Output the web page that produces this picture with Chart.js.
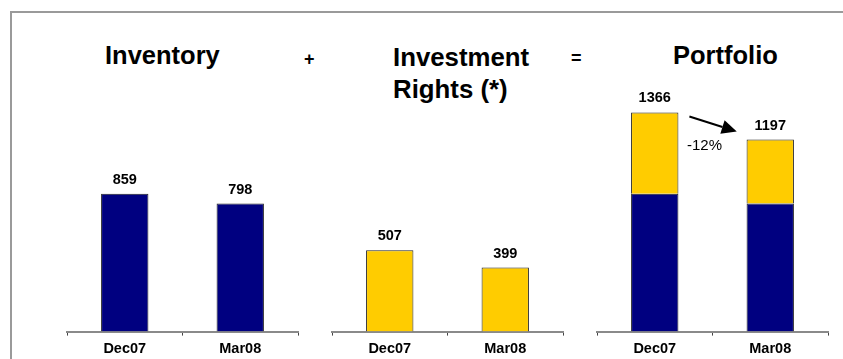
<!DOCTYPE html>
<html><head><meta charset="utf-8">
<script src="https://cdn.jsdelivr.net/npm/chart.js@4"></script>
<style>
html,body{margin:0;padding:0;background:#fff;overflow:hidden;}
#wrap{position:relative;width:843px;height:359px;overflow:hidden;font-family:"Liberation Sans",Arial,sans-serif;}
#frame{position:absolute;left:10px;top:11px;width:1200px;height:600px;border:2px solid #9a9a9a;}
.t{position:absolute;font-weight:bold;color:#000;white-space:nowrap;}
canvas{position:absolute;}
</style></head>
<body><div id="wrap"><div id="frame"></div>
<div class="t" style="left:105px;top:43px;font-size:25.5px;line-height:25px">Inventory</div>
<div class="t" style="left:304px;top:50px;font-size:18px;line-height:18px">+</div>
<div class="t" style="left:393px;top:41px;font-size:25.8px;line-height:32px">Investment<br>Rights (*)</div>
<div class="t" style="left:571px;top:49px;font-size:18px;line-height:18px">=</div>
<div class="t" style="left:673px;top:43px;font-size:25.5px;line-height:25px">Portfolio</div>
<canvas id="c1" width="235" height="291" style="left:65px;top:71px"></canvas>
<canvas id="c2" width="235" height="291" style="left:330px;top:71px"></canvas>
<canvas id="c3" width="235" height="291" style="left:595px;top:71px"></canvas>
</div>
<script>
const periods = ['Dec07', 'Mar08'];
const inventory = [859, 798];
const investmentRights = [507, 399];
const portfolioTotals = [1366, 1197];
const changeLabel = '-12%';

const NAVY = '#000080', GOLD = '#FFCC00';
const FONT = '"Liberation Sans", Arial, sans-serif';

function labelPlugin(totals) {
  return {
    id: 'totals',
    afterDatasetsDraw(chart) {
      const ctx = chart.ctx, x = chart.scales.x, y = chart.scales.y;
      ctx.save();
      ctx.font = 'bold 14.5px ' + FONT;
      ctx.fillStyle = '#000';
      ctx.textAlign = 'center';
      ctx.textBaseline = 'alphabetic';
      totals.forEach((v, i) => {
        ctx.fillText(String(v), x.getPixelForValue(i), y.getPixelForValue(v) - 10);
      });
      ctx.restore();
    }
  };
}

const arrowPlugin = {
  id: 'arrow',
  afterDatasetsDraw(chart) {
    const ctx = chart.ctx, x = chart.scales.x, y = chart.scales.y;
    const x0 = x.getPixelForValue(0), x1 = x.getPixelForValue(1);
    const mid = (x0 + x1) / 2, span = x1 - x0;
    const sx = mid - 0.2 * span, ex = mid + 0.21 * span;
    const sy = y.getPixelForValue(portfolioTotals[0]) + 4;
    const ey = y.getPixelForValue(portfolioTotals[1]) - 8;
    const ang = Math.atan2(ey - sy, ex - sx);
    const hl = 15, hw = 7;
    const bx = ex - hl * Math.cos(ang), by = ey - hl * Math.sin(ang);
    ctx.save();
    ctx.strokeStyle = '#000'; ctx.fillStyle = '#000'; ctx.lineWidth = 2;
    ctx.beginPath(); ctx.moveTo(sx, sy); ctx.lineTo(bx, by); ctx.stroke();
    ctx.beginPath();
    ctx.moveTo(ex, ey);
    ctx.lineTo(bx + hw * Math.sin(ang), by - hw * Math.cos(ang));
    ctx.lineTo(bx - hw * Math.sin(ang), by + hw * Math.cos(ang));
    ctx.closePath(); ctx.fill();
    ctx.font = '15px ' + FONT;
    ctx.textAlign = 'center'; ctx.textBaseline = 'middle';
    ctx.fillText(changeLabel, mid - 8, sy + 29);
    ctx.restore();
  }
};

function opts(stacked) {
  return {
    responsive: false,
    animation: false,
    devicePixelRatio: 1,
    layout: { padding: { left: 2, right: 2, top: 20, bottom: 0 } },
    plugins: { legend: { display: false }, tooltip: { enabled: false }, title: { display: false } },
    scales: {
      x: {
        stacked: stacked,
        grid: { display: true, drawOnChartArea: false, drawTicks: true, tickLength: 4, color: '#444', lineWidth: 1, offset: true },
        border: { display: true, color: '#8a8a8a', width: 2 },
        ticks: { color: '#000', font: { family: FONT, size: 14.5, weight: 'bold' }, padding: 4.5, maxRotation: 0 }
      },
      y: { display: false, stacked: stacked, min: 0, max: 1500 }
    }
  };
}

function barDs(label, data, color) {
  return { label, data, backgroundColor: color, borderColor: '#222', borderWidth: 1,
           categoryPercentage: 1, barPercentage: 0.41 };
}

new Chart(document.getElementById('c1'), {
  type: 'bar',
  data: { labels: periods, datasets: [barDs('Inventory', inventory, NAVY)] },
  options: opts(false),
  plugins: [labelPlugin(inventory)]
});
new Chart(document.getElementById('c2'), {
  type: 'bar',
  data: { labels: periods, datasets: [barDs('Investment Rights', investmentRights, GOLD)] },
  options: opts(false),
  plugins: [labelPlugin(investmentRights)]
});
new Chart(document.getElementById('c3'), {
  type: 'bar',
  data: { labels: periods, datasets: [barDs('Inventory', inventory, NAVY), barDs('Investment Rights', investmentRights, GOLD)] },
  options: opts(true),
  plugins: [labelPlugin(portfolioTotals), arrowPlugin]
});
</script>
</body></html>
